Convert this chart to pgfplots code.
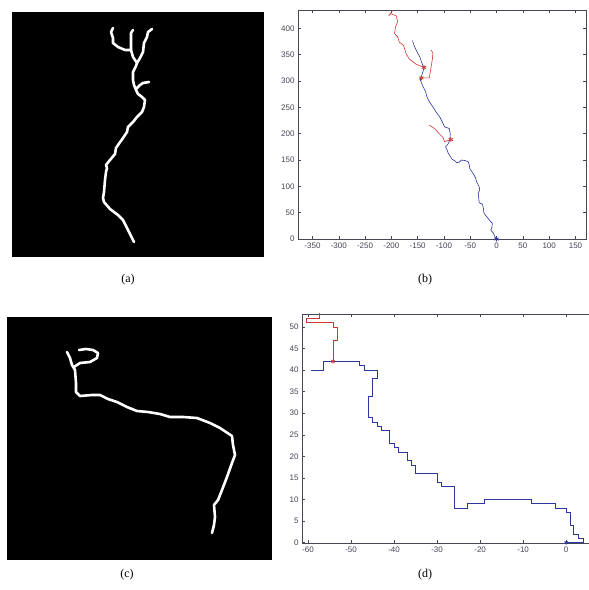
\documentclass[border=0pt]{standalone}
\usepackage{fontspec}
\setmainfont{Liberation Serif}
\newfontfamily\arial{Liberation Sans}
\usepackage{pgfplots}
\pgfplotsset{compat=1.18}
\definecolor{pathblue}{RGB}{45,55,160}
\definecolor{pathred}{RGB}{205,55,55}
\definecolor{axgray}{RGB}{70,70,85}

\pgfplotsset{
  img/.style={scale only axis, y dir=reverse, ticks=none,
    axis line style={draw=black}, axis background/.style={fill=black}},
  curve/.style={white, line width=2.6pt, line join=round, line cap=round},
  mat/.style={scale only axis, axis line style={draw=axgray, line width=0.6pt},
    tick style={axgray, line width=0.5pt}, major tick length=3pt, tick align=inside,
    ticklabel style={font=\arial\fontsize{8}{9}\selectfont, text=axgray},
    /pgf/number format/assume math mode=true},
}

\begin{document}
\begin{tikzpicture}
\path[use as bounding box, fill=white] (0pt,0pt) rectangle (589pt,590pt);

% (a) binary image
\begin{axis}[img, at={(12pt,334pt)}, anchor=south west, width=251pt, height=244pt,
  xmin=12, xmax=263, ymin=12, ymax=256]
\addplot[curve] coordinates {(134,242)(128,230)(123,220)(118,215)(110,209)(104,202)(103,198)(104,192)(105,180)(106,172)(107,168)(106,165)(110,160)(115,154)(116,148)(118,145)(123,138)(127,132)(128,127)(133,122)(137,117)(142,112)(144,107)(145,100)(142,97)(138,94)(136,90)(134,85)(133,80)(133,72)(136,66)(137,63)(133,57)(131,50)};
\addplot[curve] coordinates {(136,89)(140,85)(143,83)(149,82)};
\addplot[curve] coordinates {(131,50)(125,50)(118,47)(113,43)(113,38)(111,32)(113,28)};
\addplot[curve] coordinates {(131,50)(131,40)(131,33)(133,30)};
\addplot[curve] coordinates {(137,63)(140,58)(143,52)(144,43)(147,37)(148,32)(152,29)};
\end{axis}

% (b) tracked path
\begin{axis}[mat, at={(298pt,351pt)}, anchor=south west, width=288pt, height=229pt,
  xmin=-377.5, xmax=170, ymin=0, ymax=435,
  xtick={-350,-300,...,150}, ytick={0,50,...,400}]
\addplot[pathblue, line width=0.6pt] coordinates {(0,0)(-3,4)(-6,11)(-11,17)(-9,22)(-8,30)(-12,34)(-16,39)(-20,44)(-24,49)(-25,58)(-27,66)(-33,69)(-34,78)(-35,87)(-32,93)(-33,99)(-38,109)(-40,116)(-43,122)(-47,128)(-51,134)(-52,141)(-54,147)(-60,149)(-67,150)(-71,146)(-76,145)(-80,149)(-84,151)(-88,157)(-92,163)(-94,169)(-97,175)(-92,181)(-89,188)(-88,199)(-90,210)(-99,213)(-103,222)(-108,232)(-115,241)(-121,251)(-126,258)(-130,265)(-133,272)(-135,280)(-138,286)(-141,292)(-145,302)(-141,315)(-138,324)(-143,337)(-146,346)(-150,353)(-153,359)(-157,368)(-160,377)};
\addplot[pathred, line width=0.6pt] coordinates {(-138,326)(-153,332)(-166,342)(-172,352)(-177,368)(-185,374)(-188,384)(-194,390)(-192,403)(-188,413)(-191,424)(-201,428)(-205,424)(-199,432)(-197,440)};
\addplot[pathred, line width=0.6pt] coordinates {(-143,306)(-128,306)(-126,317)(-124,330)(-122,342)(-121,352)(-124,359)};
\addplot[pathred, line width=0.6pt] coordinates {(-87,189)(-99,185)(-102,193)(-110,201)(-118,210)(-128,216)};
\addplot[only marks, mark=asterisk, mark size=2.5pt, pathred, line width=0.8pt] coordinates {(-138,326)(-143,306)(-87,189)};
\addplot[only marks, mark=asterisk, mark size=2.5pt, pathblue, line width=0.8pt] coordinates {(0,0)};
\end{axis}

% (c) binary image
\begin{axis}[img, at={(7pt,31pt)}, anchor=south west, width=264pt, height=242pt,
  xmin=7, xmax=271, ymin=317, ymax=559]
\addplot[curve] coordinates {(212,533)(214,525)(215,517)(214,505)(218,500)(222,490)(227,477)(232,463)(235,455)(233,445)(232,436)(220,428)(210,423)(197,418)(183,417)(170,417)(160,414)(148,412)(137,411)(127,407)(117,402)(108,399)(100,395)(92,395)(80,396)(76,392)(76,383)(75,370)(72,365)(70,358)(67,352)};
\addplot[curve] coordinates {(74,367)(80,363)(90,362)(97,358)(98,353)(93,350)(86,349)(79,350)};
\end{axis}

% (d) tracked path
\begin{axis}[mat, at={(302pt,47pt)}, anchor=south west, width=290pt, height=229pt,
  xmin=-61.4, xmax=6, ymin=-0.1, ymax=53,
  xtick={-60,-50,...,0}, ytick={0,5,...,50}]
\addplot[pathblue, line width=0.6pt] coordinates {(-59.2,40)(-56.5,40)(-56.5,42)(-48,42)(-48,41)(-47,41)(-47,40)(-44,40)(-44,38)(-45,38)(-45,34)(-46,34)(-46,29)(-45,29)(-45,28)(-44,28)(-44,27)(-43,27)(-43,26)(-41,26)(-41,23)(-40,23)(-40,22)(-39,22)(-39,21)(-37,21)(-37,19)(-36,19)(-36,18)(-35,18)(-35,16)(-30,16)(-30,14)(-29,14)(-29,13)(-26,13)(-26,8)(-23,8)(-23,9)(-19,9)(-19,10)(-8,10)(-8,9)(-2.6,9)(-2.6,8)(0,8)(0,7)(0.9,7)(0.9,4)(1.7,4)(1.7,2)(2.9,2)(2.9,1)(4,1)(4,0)(0,0)};
\addplot[pathred, line width=0.6pt] coordinates {(-54.2,42)(-54.2,47)(-53.1,47)(-53.1,50)(-54.2,50)(-54.2,51)(-60.4,51)(-60.4,52)(-57.3,52)(-57.3,54)};
\addplot[only marks, mark=asterisk, mark size=2pt, pathred, line width=0.8pt] coordinates {(-54.2,42)};
\addplot[only marks, mark=asterisk, mark size=2pt, pathblue, line width=0.8pt] coordinates {(0,0)};
\end{axis}

\node[font=\fontsize{12}{14}\selectfont] at (128pt,310pt) {(a)};
\node[font=\fontsize{12}{14}\selectfont] at (425pt,310pt) {(b)};
\node[font=\fontsize{12}{14}\selectfont] at (127pt,15pt) {(c)};
\node[font=\fontsize{12}{14}\selectfont] at (425pt,15pt) {(d)};
\end{tikzpicture}
\end{document}
